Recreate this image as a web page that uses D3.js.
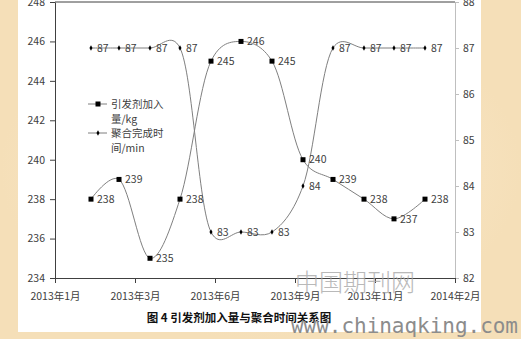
<!DOCTYPE html>
<html>
<head>
<meta charset="UTF-8">
<style type='text/css'>
  body { margin: 0; background: #f7e4c2; }
  svg { display: block; font-family: "Noto Sans CJK SC", "Noto Sans", sans-serif; }
</style>
</head>
<body>
<svg></svg>
<script src="https://d3js.org/d3.v7.min.js"></script>
<script>

let width = 521, height = 339;

// data
let months = ["2013-02-10","2013-03-10","2013-04-10","2013-05-10","2013-06-10","2013-07-10",
              "2013-08-10","2013-09-10","2013-10-10","2013-11-10","2013-12-10","2014-01-10"];
let initiator = [238, 239, 235, 238, 245, 246, 245, 240, 239, 238, 237, 238];   // kg
let polyTime  = [87, 87, 87, 87, 83, 83, 83, 84, 87, 87, 87, 87];                 // min
let xTickDates = ["2013-01-05","2013-03-26","2013-06-14","2013-09-02","2013-11-21","2014-02-09"];
let leftTicks = [234, 236, 238, 240, 242, 244, 246, 248];
let rightTicks = [82, 83, 84, 85, 86, 87, 88];
let legendNames = [["引发剂加入", "量/kg"], ["聚合完成时", "间/min"]];
let caption = "图 4  引发剂加入量与聚合时间关系图";

let parse = d3.timeParse("%Y-%m-%d");
let dates = months.map(parse);
let tickDates = xTickDates.map(parse);

let svg = d3.select("svg").attr("width", width).attr("height", height);

// paper background + white chart area
let defs = svg.append("defs");
let grad = defs.append("radialGradient").attr("id", "paper");
grad.append("stop").attr("offset", "0%").attr("stop-color", "#fbecd2");
grad.append("stop").attr("offset", "100%").attr("stop-color", "#f5dfb8");
svg.append("rect").attr("width", width).attr("height", height).attr("fill", "url(#paper)");
svg.append("rect").attr("x", 18).attr("y", 0).attr("width", 463).attr("height", 332).attr("fill", "#fff");

let pl = 55, pr = 455, pt = 2, pb = 278;

let x = d3.scaleTime().domain([tickDates[0], tickDates[tickDates.length - 1]]).range([pl, pr]);
let yL = d3.scaleLinear().domain([234, 248]).range([pb, pt]);
let yR = d3.scaleLinear().domain([82, 88]).range([pb, pt]);

// axes
let gL = svg.append("g").attr("transform", "translate(" + pl + ",0)")
  .call(d3.axisLeft(yL).tickValues(leftTicks).tickFormat(d3.format("d"))
        .tickSize(5).tickPadding(5).tickSizeOuter(0));
let gR = svg.append("g").attr("transform", "translate(" + pr + ",0)")
  .call(d3.axisRight(yR).tickValues(rightTicks).tickFormat(d3.format("d"))
        .tickSize(4).tickPadding(4).tickSizeOuter(0));
let gB = svg.append("g").attr("transform", "translate(0," + pb + ")")
  .call(d3.axisBottom(x).tickValues(tickDates).tickFormat(d3.timeFormat("%Y年%-m月"))
        .tickSize(5).tickPadding(10).tickSizeOuter(0));

[gL, gB].forEach(g => {
  g.select(".domain").attr("stroke", "#404040");
  g.selectAll(".tick line").attr("stroke", "#404040");
});
gR.select(".domain").attr("stroke", "#bfbfbf");
gR.selectAll(".tick line").attr("stroke", "#bfbfbf");
[gL, gR, gB].forEach(g => {
  g.selectAll(".tick text").attr("fill", "#404040").style("font-size", "10.5px")
    .style("font-family", "'Noto Sans CJK SC', sans-serif");
});

svg.append("line").attr("x1", pl).attr("x2", pr).attr("y1", pt).attr("y2", pt)
  .attr("stroke", "#404040");

// smoothed lines
let curve = d3.curveCatmullRom.alpha(0.2);
let line1 = d3.line().x((d, i) => x(dates[i])).y(d => yL(d)).curve(curve);
let line2 = d3.line().x((d, i) => x(dates[i])).y(d => yR(d)).curve(curve);

svg.append("path").attr("d", line1(initiator)).attr("fill", "none")
  .attr("stroke", "#7f7f7f").attr("stroke-width", 1);
svg.append("path").attr("d", line2(polyTime)).attr("fill", "none")
  .attr("stroke", "#7f7f7f").attr("stroke-width", 1);

// markers
svg.append("g").selectAll("rect").data(initiator).enter().append("rect")
  .attr("x", (d, i) => x(dates[i]) - 2.5).attr("y", d => yL(d) - 2.5)
  .attr("width", 5).attr("height", 5).attr("fill", "#000");
svg.append("g").selectAll("path").data(polyTime).enter().append("path")
  .attr("d", d3.symbol().type(d3.symbolDiamond).size(8))
  .attr("transform", (d, i) => "translate(" + x(dates[i]) + "," + yR(d) + ")")
  .attr("fill", "#000");

// data labels
let lab = svg.append("g").style("font-size", "10.5px").attr("fill", "#404040");
lab.selectAll(".l1").data(initiator).enter().append("text")
  .attr("x", (d, i) => x(dates[i]) + 6).attr("y", d => yL(d)).attr("dy", "0.35em")
  .text(d => d);
lab.selectAll(".l2").data(polyTime).enter().append("text")
  .attr("x", (d, i) => x(dates[i]) + 6).attr("y", d => yR(d)).attr("dy", "0.35em")
  .text(d => d);

// legend
let lg = svg.append("g").style("font-size", "10.5px").attr("fill", "#404040");
legendNames.forEach((names, i) => {
  let ly = 104 + i * 29;
  lg.append("line").attr("x1", 88).attr("x2", 107).attr("y1", ly).attr("y2", ly)
    .attr("stroke", "#7f7f7f");
  if (i == 0) {
    lg.append("rect").attr("x", 95.5).attr("y", ly - 2.5).attr("width", 5).attr("height", 5).attr("fill", "#000");
  } else {
    lg.append("path").attr("d", d3.symbol().type(d3.symbolDiamond).size(8)())
      .attr("transform", "translate(98," + ly + ")").attr("fill", "#000");
  }
  lg.append("text").attr("x", 111).attr("y", ly).attr("dy", "0.35em").text(names[0]);
  lg.append("text").attr("x", 111).attr("y", ly + 15).attr("dy", "0.35em").text(names[1]);
});

// caption
svg.append("text").attr("x", 239).attr("y", 318).attr("dy", "0.35em")
  .attr("text-anchor", "middle").style("font-size", "11.5px").style("font-weight", "bold")
  .attr("fill", "#111").text(caption);

// watermark
svg.append("text").attr("x", 295).attr("y", 291).style("font-size", "24px")
  .style("font-weight", "300").attr("fill", "#a8a8a8").attr("opacity", 0.8)
  .attr("textLength", 120).attr("lengthAdjust", "spacing").text("中国期刊网");
svg.append("text").attr("x", 291).attr("y", 333)
  .style("font-family", "'DejaVu Sans Mono', monospace").style("font-size", "21px")
  .attr("fill", "#8c8c8c").attr("textLength", 227).attr("lengthAdjust", "spacing")
  .text("www.chinaqking.com");

</script>
</body>
</html>
